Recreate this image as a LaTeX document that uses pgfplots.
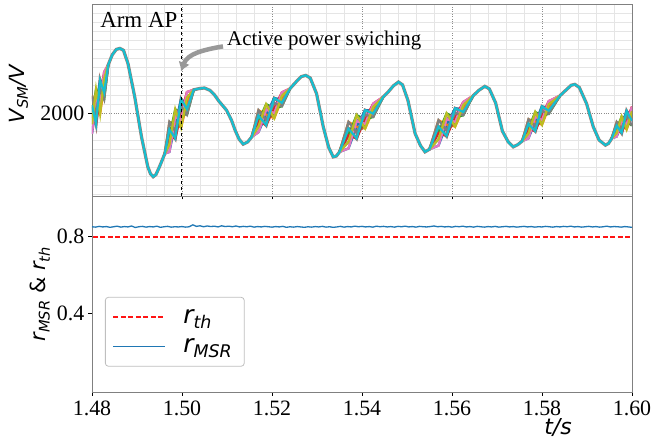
\documentclass[border=0pt]{standalone}
\usepackage{pgfplots}
\pgfplotsset{compat=1.18}
\usepackage{pgfplotstable}
\usetikzlibrary{arrows.meta}
\usepackage{fontspec}
\setmainfont{Liberation Serif}
\setsansfont{DejaVu Sans}
\definecolor{tabblue}{HTML}{1F77B4}
\definecolor{taborange}{HTML}{FF7F0E}
\definecolor{tabgreen}{HTML}{2CA02C}
\definecolor{tabred}{HTML}{D62728}
\definecolor{tabpurple}{HTML}{9467BD}
\definecolor{tabbrown}{HTML}{8C564B}
\definecolor{tabpink}{HTML}{E377C2}
\definecolor{tabgray}{HTML}{7F7F7F}
\definecolor{tabolive}{HTML}{BCBD22}
\definecolor{tabcyan}{HTML}{17BECF}
\definecolor{thred}{RGB}{255,20,20}
\pgfplotsset{mylegimg/.style={legend image code/.code={\draw[##1] (0bp,0bp) -- (52bp,0bp);}}}

\pgfplotstableread{
t v
1.4800 2085
1.4809 1880
1.4818 2360
1.4827 2225
1.4836 2530
1.4845 2640
1.4854 2700
1.4862 2711
1.4870 2690
1.4880 2543
1.4895 2176
1.4910 1736
1.4924 1407
1.4930 1330
1.4936 1297
1.4942 1320
1.4950 1407
1.4962 1554
1.4972 1818
1.4985 1720
1.4998 2150
1.5011 2043
1.5026 2255
1.5038 2268
1.5050 2275
1.5062 2249
1.5072 2200
1.5082 2130
1.5099 2030
1.5110 1920
1.5118 1810
1.5127 1710
1.5136 1656
1.5146 1680
1.5155 1736
1.5170 1970
1.5187 1865
1.5205 2162
1.5222 2112
1.5240 2268
1.5255 2350
1.5265 2400
1.5275 2414
1.5285 2385
1.5299 2213
1.5314 1846
1.5326 1620
1.5336 1516
1.5343 1525
1.5350 1570
1.5370 1828
1.5388 1719
1.5407 2030
1.5425 1993
1.5447 2176
1.5458 2230
1.5470 2300
1.5481 2341
1.5490 2310
1.5502 2140
1.5518 1773
1.5530 1640
1.5540 1571
1.5550 1600
1.5570 1850
1.5588 1745
1.5607 2050
1.5625 2011
1.5647 2190
1.5660 2250
1.5673 2293
1.5683 2265
1.5697 2110
1.5712 1800
1.5725 1680
1.5736 1626
1.5746 1650
1.5756 1690
1.5770 1878
1.5785 1800
1.5800 2070
1.5815 2025
1.5840 2190
1.5855 2260
1.5865 2305
1.5873 2315
1.5883 2280
1.5899 2103
1.5914 1846
1.5927 1700
1.5941 1645
1.5948 1665
1.5955 1720
1.5966 1860
1.5977 1780
1.5988 2020
1.6000 1913
}\basetab

\pgfplotstableread{
t s0 s1 s2 s3 s4 s5 s6 s7 s8
1.4800 1770 2190 1980 1980 1875 2085 1770 2190 1875
1.4809 2070 2070 2260 1880 2165 1975 2165 1975 2260
1.4818 2360 1990 2175 2175 2268 2083 2083 2268 1990
1.4827 2300 2300 2150 2450 2225 2375 2450 2150 2375
1.4836 2530 2530 2530 2530 2530 2530 2530 2530 2530
nan nan nan nan nan nan nan nan nan nan
1.4962 1554 1554 1554 1554 1554 1554 1554 1554 1554
1.4972 1570 1900 1735 1735 1653 1818 1570 1900 1653
1.4985 1880 1880 2040 1720 1960 1800 1960 1800 2040
1.4998 2150 1840 1995 1995 2073 1918 1918 2073 1840
1.5011 2105 2105 1980 2230 2043 2168 2230 1980 2168
1.5026 2255 2255 2255 2255 2255 2255 2255 2255 2255
nan nan nan nan nan nan nan nan nan nan
1.5155 1736 1736 1736 1736 1736 1736 1736 1736 1736
1.5170 1788 2030 1909 1909 1849 1970 1788 2030 1849
1.5187 1981 1981 2096 1865 2038 1923 2038 1923 2096
1.5205 2162 1942 2052 2052 2107 1997 1997 2107 1942
1.5222 2151 2151 2074 2227 2112 2189 2227 2074 2189
1.5240 2268 2268 2268 2268 2268 2268 2268 2268 2268
nan nan nan nan nan nan nan nan nan nan
1.5350 1570 1570 1570 1570 1570 1570 1570 1570 1570
1.5370 1609 1901 1755 1755 1682 1828 1609 1901 1682
1.5388 1847 1847 1975 1719 1911 1783 1911 1783 1975
1.5407 2030 1829 1930 1930 1980 1879 1879 1980 1829
1.5425 2030 2030 1956 2103 1993 2066 2103 1956 2066
1.5447 2176 2176 2176 2176 2176 2176 2176 2176 2176
nan nan nan nan nan nan nan nan nan nan
1.5550 1600 1600 1600 1600 1600 1600 1600 1600 1600
1.5570 1640 1920 1780 1780 1710 1850 1640 1920 1710
1.5588 1870 1870 1995 1745 1933 1808 1933 1808 1995
1.5607 2050 1850 1950 1950 2000 1900 1900 2000 1850
1.5625 2048 2048 1975 2120 2011 2084 2120 1975 2084
1.5647 2190 2190 2190 2190 2190 2190 2190 2190 2190
nan nan nan nan nan nan nan nan nan nan
1.5756 1690 1690 1690 1690 1690 1690 1690 1690 1690
1.5770 1720 1930 1825 1825 1773 1878 1720 1930 1773
1.5785 1905 1905 2010 1800 1958 1853 1958 1853 2010
1.5800 2070 1870 1970 1970 2020 1920 1920 2020 1870
1.5815 2060 2060 1990 2130 2025 2095 2130 1990 2095
1.5840 2190 2190 2190 2190 2190 2190 2190 2190 2190
nan nan nan nan nan nan nan nan nan nan
1.5955 1720 1720 1720 1720 1720 1720 1720 1720 1720
1.5966 1740 1900 1820 1820 1780 1860 1740 1900 1780
1.5977 1870 1870 1960 1780 1915 1825 1915 1825 1960
1.5988 2020 1820 1920 1920 1970 1870 1870 1970 1820
1.6000 1965 1965 1860 2070 1913 2018 2070 1860 2018
}\bands

\pgfplotstableread{
t r
1.4800 .850
1.4808 .848
1.4816 .852
1.4824 .849
1.4832 .851
1.4840 .847
1.4848 .850
1.4856 .853
1.4864 .848
1.4872 .851
1.4880 .849
1.4888 .854
1.4896 .846
1.4904 .850
1.4912 .852
1.4920 .848
1.4928 .851
1.4936 .849
1.4944 .853
1.4952 .847
1.4960 .850
1.4968 .852
1.4976 .848
1.4984 .850
1.4992 .849
1.5000 .851
1.5008 .848
1.5016 .850
1.5024 .860
1.5032 .852
1.5040 .855
1.5048 .850
1.5056 .854
1.5064 .851
1.5072 .853
1.5080 .849
1.5088 .855
1.5096 .851
1.5104 .853
1.5112 .850
1.5120 .854
1.5128 .849
1.5136 .852
1.5144 .850
1.5152 .853
1.5160 .848
1.5168 .851
1.5176 .849
1.5184 .852
1.5192 .850
1.5200 .848
1.5208 .851
1.5216 .849
1.5224 .852
1.5232 .847
1.5240 .850
1.5248 .848
1.5256 .851
1.5264 .849
1.5272 .847
1.5280 .850
1.5288 .848
1.5296 .851
1.5304 .849
1.5312 .852
1.5320 .848
1.5328 .850
1.5336 .847
1.5344 .849
1.5352 .852
1.5360 .848
1.5368 .851
1.5376 .849
1.5384 .853
1.5392 .850
1.5400 .852
1.5408 .849
1.5416 .851
1.5424 .848
1.5432 .853
1.5440 .850
1.5448 .852
1.5456 .849
1.5464 .851
1.5472 .848
1.5480 .852
1.5488 .850
1.5496 .853
1.5504 .849
1.5512 .851
1.5520 .848
1.5528 .852
1.5536 .850
1.5544 .849
1.5552 .851
1.5560 .854
1.5568 .850
1.5576 .852
1.5584 .849
1.5592 .851
1.5600 .848
1.5608 .852
1.5616 .850
1.5624 .853
1.5632 .849
1.5640 .851
1.5648 .848
1.5656 .852
1.5664 .850
1.5672 .848
1.5680 .851
1.5688 .849
1.5696 .852
1.5704 .848
1.5712 .850
1.5720 .852
1.5728 .849
1.5736 .851
1.5744 .848
1.5752 .850
1.5760 .852
1.5768 .849
1.5776 .851
1.5784 .848
1.5792 .850
1.5800 .849
1.5808 .852
1.5816 .850
1.5824 .848
1.5832 .851
1.5840 .849
1.5848 .852
1.5856 .850
1.5864 .853
1.5872 .849
1.5880 .851
1.5888 .848
1.5896 .850
1.5904 .852
1.5912 .849
1.5920 .851
1.5928 .848
1.5936 .850
1.5944 .853
1.5952 .849
1.5960 .851
1.5968 .850
1.5976 .848
1.5984 .851
1.5992 .849
1.6000 .847
}\rtab

\pgfplotstableread{
t r
1.4802 0.795
1.5400 0.795
1.5998 0.795
}\thtab

\pgfplotsset{
  myax/.style={
    scale only axis, width=540bp,
    xmin=1.48, xmax=1.60,
    axis line style={black!50, line width=0.8bp},
    tick style={black, line width=0.7bp},
    tick align=outside, tick pos=left,
    major tick length=3.5bp, minor tick length=0bp,
    tick label style={font=\fontsize{22}{22}\selectfont, inner sep=0bp},
    xticklabel style={yshift=-5bp},
    yticklabel style={xshift=-4bp},
    xtick={1.48,1.50,1.52,1.54,1.56,1.58,1.60},
  },
  bandline/.style={line width=2.3bp, unbounded coords=jump},
}

\begin{document}
\begin{tikzpicture}
% ---------- top axis ----------
\begin{axis}[myax,
  at={(0bp,0bp)}, anchor=north west, height=192bp,
  ymin=1085, ymax=3200,
  xticklabels={},
  minor x tick num=4,
  ytick={2000}, yticklabels={2000},
  minor ytick={1100,1200,1300,1400,1500,1600,1700,1800,1900,2100,2200,2300,2400,2500,2600,2700,2800,2900,3000,3100},
  grid=both,
  major grid style={dotted, black!45, line width=0.7bp},
  minor grid style={black!10, line width=0.5bp},
  ylabel={\fontsize{21}{21}\selectfont\sffamily\itshape V\textsubscript{SM}/V},
  ylabel style={at={(axis description cs:-0.136,0.53)}, anchor=center},
]
\addplot[tabbrown!80, line width=3.2bp] table[x=t,y=v] {\basetab};
\addplot[tabblue, bandline] table[x=t,y=s0] {\bands};
\addplot[taborange, bandline] table[x=t,y=s1] {\bands};
\addplot[tabgreen, bandline] table[x=t,y=s2] {\bands};
\addplot[tabred, bandline] table[x=t,y=s3] {\bands};
\addplot[tabpurple, bandline] table[x=t,y=s4] {\bands};
\addplot[tabbrown, bandline] table[x=t,y=s5] {\bands};
\addplot[tabpink, bandline] table[x=t,y=s6] {\bands};
\addplot[tabgray, bandline] table[x=t,y=s7] {\bands};
\addplot[tabolive, bandline] table[x=t,y=s8] {\bands};
\addplot[tabcyan, line width=2.2bp] table[x=t,y=v] {\basetab};
\addplot[black, dashed, line width=1bp] coordinates {(1.5,1085) (1.5,3200)};
\node[anchor=base west, inner sep=0pt, font=\fontsize{23}{23}\selectfont] at (axis cs:1.4818,2942) {Arm AP};
\node[anchor=base west, inner sep=0pt, font=\fontsize{21}{21}\selectfont] at (axis cs:1.5100,2744) {Active power swiching};
\draw[black!40, line width=4.5bp, -{Latex[length=9bp,width=12bp]}] (axis cs:1.50911,2733) to[out=190,in=70] (axis cs:1.49978,2458);
\end{axis}
% ---------- bottom axis ----------
\begin{axis}[myax, mylegimg, clip=false,
  at={(0bp,-192bp)}, anchor=north west, height=196bp,
  ymin=-0.01, ymax=1.01,
  xticklabels={1.48,1.50,1.52,1.54,1.56,1.58,1.60},
  ytick={0.4,0.8}, yticklabels={0.4,0.8},
  ylabel={\fontsize{21}{21}\selectfont\sffamily\itshape r\textsubscript{MSR} \upshape\& \itshape r\textsubscript{th}},
  ylabel style={at={(axis description cs:-0.096,0.5)}, anchor=center},
  xlabel={\fontsize{22}{22}\selectfont\sffamily\itshape t/s},
  xlabel style={at={(axis description cs:0.863,-0.179)}, anchor=center},
  legend style={at={(axis description cs:0.024,0.485)}, anchor=north west,
    draw=black!25, line width=0.8bp, rounded corners=3bp, fill=white,
    font=\fontsize{25}{25}\selectfont\sffamily\itshape,
    inner xsep=7bp, inner ysep=10bp, row sep=10bp,
    nodes={inner xsep=5bp, inner ysep=2bp},
    /tikz/every odd column/.append style={column sep=12bp}},
  legend cell align=left,
]
\addplot[draw=thred, color=thred, line width=1.9bp, dash pattern=on 5bp off 2.5bp] table[x=t,y=r] {\thtab};
\addlegendentry{r\textsubscript{th}}
\addplot[color=tabblue, line width=1.3bp] table[x=t,y=r] {\rtab};
\addlegendentry{r\textsubscript{MSR}}
\end{axis}
\pgfresetboundingbox
\path[use as bounding box] (-92bp,4bp) rectangle (560bp,-441bp);
\end{tikzpicture}
\end{document}
